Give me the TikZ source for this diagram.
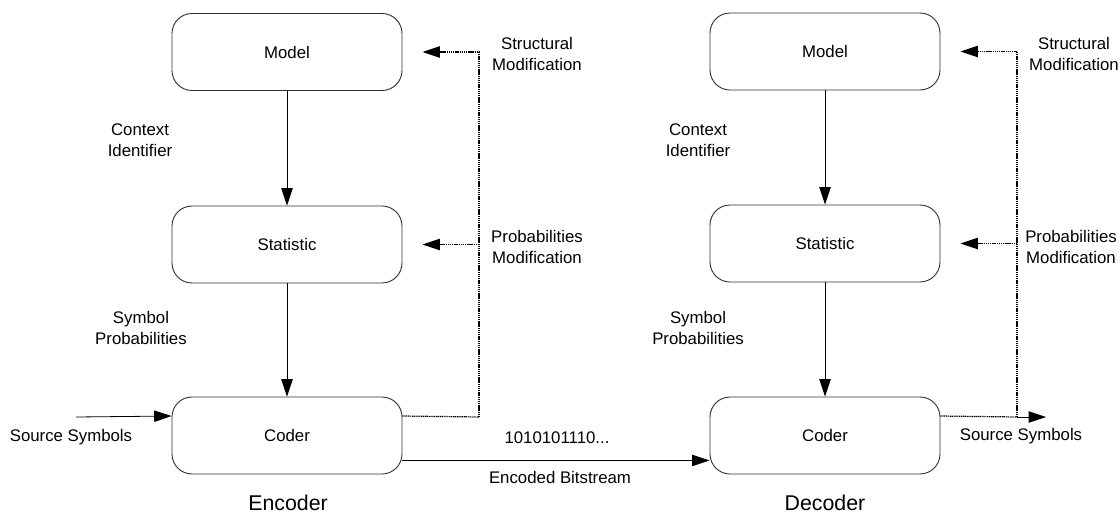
\documentclass[tikz,border=0pt]{standalone}
\usepackage{fontspec}
\setmainfont{Liberation Sans}
\usetikzlibrary{arrows.meta,calc}
\begin{document}
\begin{tikzpicture}[x=0.75pt,y=-0.75pt,
  every node/.style={font=\fontsize{12.6}{15.5}\selectfont},
  blk/.style={draw=black!80,line width=0.7pt,rounded corners=15pt,minimum width=172.5pt,minimum height=57.75pt,inner sep=0pt},
  lbl/.style={align=center,inner sep=0pt},
  big/.style={lbl,font=\fontsize{16}{19}\selectfont},
  arr/.style={line width=0.6pt,-{Triangle[length=13pt,width=8.5pt]}},
  fb/.style={line width=0.9pt,dash pattern=on 0.9pt off 0.5pt},
  fbarr/.style={fb,-{Triangle[length=13pt,width=8.5pt]},shorten >=15pt}]
\useasboundingbox (0,0) rectangle (1120,517);
% encoder
\node[blk] (m1) at (287,52) {Model};
\node[blk] (s1) at (287,244.5) {Statistic};
\node[blk] (c1) at (287,435.5) {Coder};
% decoder
\node[blk] (m2) at (825,51.5) {Model};
\node[blk] (s2) at (825,243.5) {Statistic};
\node[blk] (c2) at (825,435.5) {Coder};
% labels
\node[lbl] (ci1) at (140,140) {Context\\Identifier};
\node[lbl] (sp1) at (141,328) {Symbol\\Probabilities};
\node[lbl] (ci2) at (698,140) {Context\\Identifier};
\node[lbl] (sp2) at (698,328) {Symbol\\Probabilities};
\node[lbl] (sm1) at (537,54) {Structural\\Modification};
\node[lbl] (pm1) at (537,247) {Probabilities\\Modification};
\node[lbl] (sm2) at (1074,54) {Structural\\Modification};
\node[lbl] (pm2) at (1071,247) {Probabilities\\Modification};
\node[lbl] (ss1) at (71,437) {Source Symbols};
\node[lbl] (ss2) at (1021,436) {Source Symbols};
\node[lbl] (bits) at (557,438) {1010101110...};
\node[lbl] (eb) at (560,477) {Encoded Bitstream};
\node[big] (enc) at (288,503) {Encoder};
\node[big] (dec) at (825,503) {Decoder};
% vertical arrows
\draw[arr] (m1) -- (s1);
\draw[arr] (s1) -- (c1);
\draw[arr] (m2) -- (s2);
\draw[arr] (s2) -- (c2);
% input
\coordinate (srcin) at (76,417);
\draw[arr] (srcin) -- ($(c1.north west)!0.25!(c1.south west)$);
% bitstream
\draw[arr] ($(c1.north east)!0.82!(c1.south east)$) -- ($(c2.north west)!0.82!(c2.south west)$);
% encoder feedback
\coordinate (j1) at (479,417);
\draw[fb] ($(c1.north east)!0.25!(c1.south east)$) -- (j1);
\draw[fbarr] (j1) |- (m1.east);
\draw[fbarr] (j1 |- s1.east) -- (s1.east);
% decoder feedback
\coordinate (j2) at (1017,417);
\coordinate (srcout) at (1046,417);
\draw[fb] ($(c2.north east)!0.25!(c2.south east)$) -- (j2);
\draw[arr] (j2) -- (srcout);
\draw[fbarr] (j2) |- (m2.east);
\draw[fbarr] (j2 |- s2.east) -- (s2.east);
\end{tikzpicture}
\end{document}
